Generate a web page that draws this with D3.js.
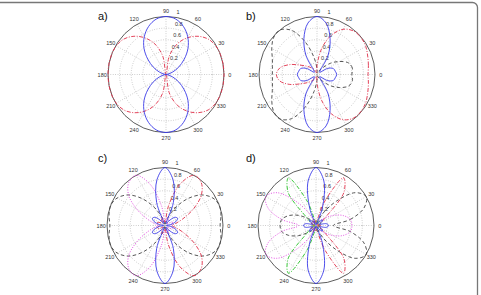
<!DOCTYPE html>
<html>
<head>
<meta charset="utf-8">
<script src="https://d3js.org/d3.v7.min.js"></script>
<style>
  body { margin: 0; background: #fff; }
  svg { display: block; font-family: 'Liberation Sans', Arial, sans-serif; }
</style>
</head>
<body>
<div id="container"></div>
<script>
// sample angles (degrees, counter-clockwise from 0 = east)
const angles = [0, 10, 20, 30, 40, 50, 60, 70, 80, 90, 100, 110, 120, 130, 140, 150, 160, 170,
  180, 190, 200, 210, 220, 230, 240, 250, 260, 270, 280, 290, 300, 310, 320, 330, 340, 350];
const spokeAngles = [0, 30, 60, 90, 120, 150, 180, 210, 240, 270, 300, 330];
const spokeLabels = ['0', '30', '60', '90', '120', '150', '180', '210', '240', '270', '300', '330'];
const rTicks = [0.2, 0.4, 0.6, 0.8, 1];
const rLabels = ['0.2', '0.4', '0.6', '0.8', '1'];

// a)
const aBlue = [0, .03, .12, .25, .41, .59, .75, .88, .97, 1, .97, .88, .75, .59, .41, .25, .12, .03,
  0, .03, .12, .25, .41, .59, .75, .88, .97, 1, .97, .88, .75, .59, .41, .25, .12, .03];
const aRed = [1, 1, 1, .99, .95, .86, .73, .56, .32, 0, .32, .56, .73, .86, .95, .99, 1, 1,
  1, 1, 1, .99, .95, .86, .73, .56, .32, 0, .32, .56, .73, .86, .95, .99, 1, 1];

// b)
const bBlue = [.34, .32, .3, .21, .06, .08, .38, .66, .9, 1, .9, .66, .38, .08, .06, .21, .3, .32,
  .34, .32, .3, .21, .06, .08, .38, .66, .9, 1, .9, .66, .38, .08, .06, .21, .3, .32];
const bRed = [.88, .9, .93, .97, .99, .98, .9, .72, .45, .15, .03, .05, .1, .15, .22, .32, .5, .65,
  .7, .65, .5, .32, .22, .15, .1, .05, .03, .15, .45, .72, .9, .98, .99, .97, .93, .9];
const bBlack = [.6, .62, .58, .45, .3, .15, .08, .04, .02, .1, .3, .6, .88, 1, .98, .9, .82, .78,
  .77, .78, .82, .9, .98, 1, .88, .6, .3, .1, .02, .04, .08, .15, .3, .45, .58, .62];

// c)
const cBlue = [.02, .1, .2, .25, .22, .1, .04, .42, .8, 1, .8, .42, .04, .1, .22, .25, .2, .1,
  .02, .1, .2, .25, .22, .1, .04, .42, .8, 1, .8, .42, .04, .1, .22, .25, .2, .1];
const cRed = [.12, .18, .32, .56, .82, .97, 1, .76, .34, .06, .1, .15, .12, .06, .04, .1, .15, .12,
  .1, .12, .15, .1, .04, .06, .12, .15, .1, .06, .34, .76, 1, .97, .82, .56, .32, .18];
const cMagenta = [.1, .12, .15, .1, .04, .06, .12, .15, .1, .06, .34, .76, 1, .97, .82, .56, .32, .18,
  .12, .18, .32, .56, .82, .97, 1, .76, .34, .06, .1, .15, .12, .06, .04, .1, .15, .12];
const cBlack = [.95, .98, 1, .95, .82, .6, .35, .15, .05, 0, .05, .15, .35, .6, .82, .95, 1, .98,
  .95, .98, 1, .95, .82, .6, .35, .15, .05, 0, .05, .15, .35, .6, .82, .95, 1, .98];

// d)
const dBlue = [.22, .18, .06, .1, .15, .08, .02, .32, .78, 1, .78, .32, .02, .08, .15, .1, .06, .18,
  .22, .18, .06, .1, .15, .08, .02, .32, .78, 1, .78, .32, .02, .08, .15, .1, .06, .18];
const dRed = [.08, .05, .02, .1, .2, .75, .95, .45, .08, .05, .1, .12, .08, .03, .06, .1, .08, .04,
  .06, .04, .08, .1, .06, .03, .08, .12, .1, .05, .08, .45, .95, .75, .2, .1, .02, .05];
const dGreen = [.06, .04, .08, .1, .06, .03, .08, .12, .1, .05, .08, .45, .95, .75, .2, .1, .02, .05,
  .08, .05, .02, .1, .2, .75, .95, .45, .08, .05, .1, .12, .08, .03, .06, .1, .08, .04];
const dBlack = [.3, .6, .88, 1, .88, .55, .25, .08, .03, .02, .03, .05, .08, .12, .2, .35, .5, .6,
  .62, .6, .5, .35, .2, .12, .08, .05, .03, .02, .03, .08, .25, .55, .88, 1, .88, .6];
const dMagenta = [.62, .6, .5, .35, .2, .12, .08, .05, .03, .02, .03, .08, .25, .55, .88, 1, .88, .6,
  .3, .6, .88, 1, .88, .55, .25, .08, .03, .02, .03, .05, .08, .12, .2, .35, .5, .6];

const styles = {
  blue: { color: '#3a3ae8', dash: null },
  red: { color: '#e0304a', dash: '4,1.5,1,1.5' },
  black: { color: '#444', dash: '3.5,2.5' },
  magenta: { color: '#e040e0', dash: '1,1.5' },
  green: { color: '#22c022', dash: '4,1.5,1,1.5' }
};

const width = 481, height = 295, R = 58;

const panels = [
  { label: 'a)', cx: 166, cy: 74.5, lx: 98, ly: 20,
    curves: [['red', aRed], ['blue', aBlue]] },
  { label: 'b)', cx: 317, cy: 74.5, lx: 246, ly: 20,
    curves: [['black', bBlack], ['red', bRed], ['blue', bBlue]] },
  { label: 'c)', cx: 165, cy: 225.5, lx: 98, ly: 162,
    curves: [['black', cBlack], ['magenta', cMagenta], ['red', cRed], ['blue', cBlue]] },
  { label: 'd)', cx: 316, cy: 225.5, lx: 246, ly: 162,
    curves: [['black', dBlack], ['magenta', dMagenta], ['green', dGreen], ['red', dRed], ['blue', dBlue]] }
];

let svg = d3.select('#container').append('svg')
  .attr('width', width)
  .attr('height', height);

const rScale = d3.scaleLinear().domain([0, 1]).range([0, R]);
const rad = (deg) => deg * Math.PI / 180;

main();

function main() {
  // frame of the figure (rounded box, cut by the page edges)
  svg.append('path')
    .attr('d', `M0,2.5 H472.5 A5,5 0 0 1 477.5,7.5 V${height}`)
    .attr('fill', 'none')
    .attr('stroke', '#777')
    .attr('stroke-width', 1.3);

  panels.forEach(drawPanel);
}

function drawPanel(p) {
  let g = svg.append('g')
    .attr('transform', `translate(${p.cx},${p.cy})`);

  // dotted rings
  g.selectAll('circle.ring')
    .data(rTicks.slice(0, -1))
    .enter()
    .append('circle')
    .attr('class', 'ring')
    .attr('r', (d) => rScale(d))
    .attr('fill', 'none')
    .attr('stroke', '#9a9a9a')
    .attr('stroke-width', 0.6)
    .attr('stroke-dasharray', '0.8,1.6');

  // dotted spokes through the centre
  g.selectAll('line.spoke')
    .data(spokeAngles.slice(0, 6))
    .enter()
    .append('line')
    .attr('class', 'spoke')
    .attr('x1', (d) => -rScale(1) * Math.cos(rad(d)))
    .attr('y1', (d) => rScale(1) * Math.sin(rad(d)))
    .attr('x2', (d) => rScale(1) * Math.cos(rad(d)))
    .attr('y2', (d) => -rScale(1) * Math.sin(rad(d)))
    .attr('stroke', '#9a9a9a')
    .attr('stroke-width', 0.6)
    .attr('stroke-dasharray', '0.8,1.6');

  // outer circle
  g.append('circle')
    .attr('r', rScale(1))
    .attr('fill', 'none')
    .attr('stroke', '#333')
    .attr('stroke-width', 0.8);

  // angle labels
  g.selectAll('text.ang')
    .data(spokeAngles)
    .enter()
    .append('text')
    .attr('class', 'ang')
    .attr('x', (d) => rScale(1.1) * Math.cos(rad(d)))
    .attr('y', (d) => -rScale(1.1) * Math.sin(rad(d)))
    .attr('text-anchor', 'middle')
    .attr('dominant-baseline', 'central')
    .attr('font-size', 5.5)
    .attr('fill', '#333')
    .text((d, i) => spokeLabels[i]);

  // radius labels along 82 degrees
  g.selectAll('text.rad')
    .data(rTicks)
    .enter()
    .append('text')
    .attr('class', 'rad')
    .attr('x', (d) => rScale(d) * Math.cos(rad(82)) + 2.5)
    .attr('y', (d) => -rScale(d + 0.05) * Math.sin(rad(82)))
    .attr('font-size', 5.5)
    .attr('fill', '#333')
    .text((d, i) => rLabels[i]);

  // curves
  let line = d3.lineRadial()
    .angle((d) => Math.PI / 2 - rad(d[0]))
    .radius((d) => rScale(d[1]))
    .curve(d3.curveCatmullRomClosed.alpha(0.5));

  g.selectAll('path.curve')
    .data(p.curves)
    .enter()
    .append('path')
    .attr('class', 'curve')
    .attr('d', (c) => line(angles.map((a, i) => [a, c[1][i]])))
    .attr('fill', 'none')
    .attr('stroke', (c) => styles[c[0]].color)
    .attr('stroke-width', 0.9)
    .attr('stroke-dasharray', (c) => styles[c[0]].dash);

  // panel letter
  svg.append('text')
    .attr('x', p.lx)
    .attr('y', p.ly)
    .attr('font-size', 11)
    .attr('fill', '#111')
    .text(p.label);
}
</script>
</body>
</html>
